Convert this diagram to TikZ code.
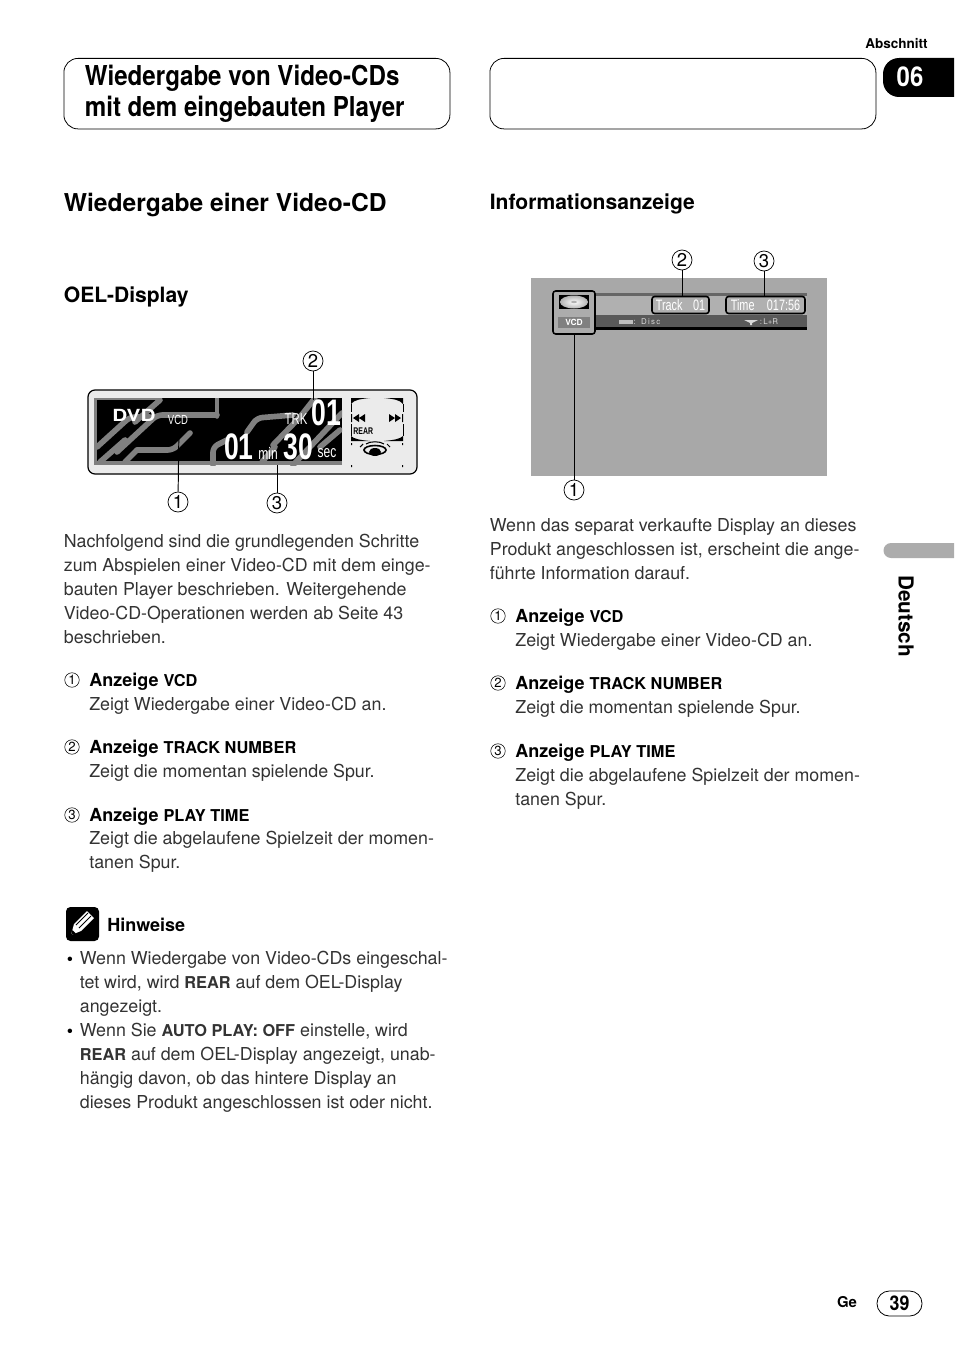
\documentclass[tikz,border=0pt]{standalone}
\usepackage{fontspec}
\usepackage{tikz}
\setmainfont{TeX Gyre Heros}
\newfontfamily\narrowfont[FakeStretch=0.72]{Liberation Sans}
\newfontfamily\titlefont[FakeStretch=0.88]{TeX Gyre Heros}
\usetikzlibrary{shapes.geometric, arrows, positioning}
\definecolor{bodyink}{gray}{0.2}
\definecolor{screengrey}{gray}{0.66}
\definecolor{roadgrey}{gray}{0.5}
\definecolor{oelface}{gray}{0.92}
\newcommand{\bodyfont}{\fontsize{10.15pt}{13.66pt}\selectfont}
\newcommand{\capword}[1]{{\fontsize{9.3pt}{13.66pt}\selectfont\bfseries #1}}
\tikzstyle{titlebox} = [rectangle, rounded corners=8pt, draw=black, line width=0.45pt, minimum width=386*0.02cm, minimum height=70.5*0.02cm, anchor=north west, inner sep=0]
\tikzstyle{titletext} = [anchor=west, inner sep=0, align=left, font=\titlefont\bfseries\fontsize{15.6pt}{17.9pt}\selectfont]
\tikzstyle{heading} = [anchor=west, inner sep=0, font=\bfseries\fontsize{14pt}{16pt}\selectfont]
\tikzstyle{subheading} = [anchor=west, inner sep=0, font=\bfseries\fontsize{12pt}{14pt}\selectfont]
\tikzstyle{paragraph} = [anchor=north west, inner sep=0, align=left, text=bodyink, font=\bodyfont]
\tikzstyle{itemhead} = [anchor=west, inner sep=0, font=\fontsize{10.25pt}{13.66pt}\selectfont\bfseries]
\tikzstyle{number} = [circle, draw=black, line width=0.4pt, inner sep=0, minimum size=20*0.02cm, font=\fontsize{10.5pt}{11pt}\selectfont]
\tikzstyle{smallnumber} = [circle, draw=black, line width=0.3pt, inner sep=0, minimum size=14.5*0.02cm, font=\fontsize{7.5pt}{8pt}\selectfont]
\tikzstyle{leader} = [line width=0.55pt, black]
\tikzstyle{road} = [roadgrey, line width=3.2pt, rounded corners=3pt, line cap=round]
\tikzstyle{oeltext} = [inner sep=0, text=white, font=\narrowfont]
\tikzstyle{bigdigits} = [inner sep=0, text=white, font=\narrowfont\bfseries\fontsize{21pt}{24pt}\selectfont]
\tikzstyle{framebox} = [rectangle, rounded corners=1.5pt, draw=black, line width=0.9pt, inner sep=0, minimum height=17*0.02cm]
\begin{document}
\begin{tikzpicture}[x=0.02cm, y=-0.02cm]
	\useasboundingbox (0,0) rectangle (954,1355);
	\fill [white] (0,0) rectangle (954,1355);

	% page furniture
	\node (section) [anchor=east, inner sep=0, font=\bfseries\fontsize{7.7pt}{9pt}\selectfont] at (928,43.5) {Abschnitt};
	\node (titleLeft) [titlebox] at (63.5,58) {};
	\node (titleRight) [titlebox] at (489.5,58) {};
	\node (titleText) [titletext] at (84.5,94) {Wiedergabe von Video-CDs\\mit dem eingebauten Player};
	\fill [black] (954,58) -- (899,58) arc (-90:-180:16 and 16) -- (883,81) arc (180:90:16 and 16) -- (954,97) -- cycle;
	\node (chapter) [inner sep=0, text=white, font=\titlefont\bfseries\fontsize{15.5pt}{17pt}\selectfont] at (910,77) {06};
	\fill [gray!65] (954,543) -- (891,543) arc (270:90:7.5) -- (954,558) -- cycle;
	\node (language) [rotate=-90, inner sep=0, font=\bfseries\fontsize{11.8pt}{13pt}\selectfont] at (906,616) {Deutsch};

	% headings
	\node (headMain) [heading] at (63.5,205) {Wiedergabe einer Video-CD};
	\node (headInfo) [subheading] at (489.5,204) {Informationsanzeige};
	\node (headOel) [subheading] at (63.5,297) {OEL-Display};

	% OEL display
	\draw [black, fill=oelface, line width=0.7pt, rounded corners=4pt] (88,390) rectangle (417,474);
	\begin{scope}
		\clip (94,398) rectangle (342,465);
		\fill [black] (94,398) rectangle (342,465);
		\fill [roadgrey] (94,398) rectangle (97,465);
		\fill [roadgrey] (94,398) rectangle (160,400);
		\fill [roadgrey] (94,461) rectangle (342,465);
		\draw [road] (97,447) -- (130,417) -- (150,417);
		\draw [road] (117,452) -- (157,415) -- (217,415);
		\draw [road] (160,400) -- (135,422);
		\draw [road] (100,462) -- (125,440);
		\draw [road] (190,433) -- (173,450) -- (137,450);
		\draw [road] (137,450) -- (125,462);
		\draw [road, line width=2pt] (217,398) -- (217,417);
		\draw [road] (213,465) -- (213,447) -- (227,440);
		\draw [road] (247,432) -- (257,418) -- (293,415);
		\draw [road] (273,445) -- (300,417) -- (315,398);
		\draw [road] (262,462) -- (275,447);
		\draw [road] (293,465) -- (342,413);
		\draw [road] (320,447) -- (340,430);
	\end{scope}
	\node (oelDvd) [inner sep=0, text=white, font=\bfseries\fontsize{9.5pt}{10pt}\selectfont, xscale=1.25, transform shape] at (134,415) {DVD};
	\node (oelVcd) [oeltext, font=\narrowfont\fontsize{7.5pt}{8pt}\selectfont] at (178,420) {VCD};
	\node (oelTrk) [oeltext, font=\narrowfont\fontsize{9pt}{9pt}\selectfont] at (296,419) {TRK};
	\node (oelTrack) [bigdigits] at (326.5,413) {01};
	\node (oelMin) [bigdigits] at (239,447) {01};
	\node (oelMinUnit) [oeltext, font=\narrowfont\fontsize{9.5pt}{10pt}\selectfont] at (268,453) {min};
	\node (oelSec) [bigdigits] at (298,447) {30};
	\node (oelSecUnit) [oeltext, font=\narrowfont\fontsize{9.5pt}{10pt}\selectfont] at (327,453) {sec};
	% mode icons
	\fill [black] (351,398) -- (370,398) .. controls (360,399) and (354,400) .. (351,404) -- cycle;
	\fill [black] (403,398) -- (384,398) .. controls (394,399) and (400,400) .. (403,404) -- cycle;
	\fill [black] (351,441) -- (370,441) .. controls (360,440) and (354,439) .. (351,436) -- cycle;
	\fill [black] (403,441) -- (384,441) .. controls (394,440) and (400,439) .. (403,436) -- cycle;
	\draw [black, line width=0.4pt] (351,404) -- (351,412) (403,404) -- (403,412) (351,424) -- (351,436) (403,424) -- (403,436);
	\fill [black] (351,414) rectangle (352,422) (353,418) -- (359,414) -- (359,422) -- cycle (359,418) -- (365,414) -- (365,422) -- cycle;
	\fill [black] (402,414) rectangle (403,422) (401,418) -- (395,414) -- (395,422) -- cycle (395,418) -- (389,414) -- (389,422) -- cycle;
	\node (oelRear) [inner sep=0, font=\narrowfont\bfseries\fontsize{5.5pt}{6pt}\selectfont, anchor=west] at (353,431) {REAR};
	\draw [black, line width=0.9pt] (375,450) ellipse (11 and 4.5);
	\fill [black] (375,452) ellipse (6 and 4);
	\draw [black, line width=0.6pt] (366,444) .. controls (370,441) and (380,441) .. (384,444);
	\draw [black, line width=0.6pt] (360,447) -- (363,444) (390,447) -- (387,444);
	\fill [black] (351,443) rectangle (352,445) (402,443) rectangle (403,445) (351,465) rectangle (352,467) (402,465) rectangle (403,467);

	\node (oelOne) [number] at (178,502) {1};
	\node (oelTwo) [number] at (313,361) {2};
	\node (oelThree) [number] at (277,503) {3};
	\coordinate (oelOneEnd) at (179,425);
	\coordinate (oelTwoEnd) at (313,400);
	\coordinate (oelThreeEnd) at (277,465);
	\draw [leader] (oelOne) -- (oelOneEnd);
	\draw [leader] (oelTwo) -- (oelTwoEnd);
	\draw [leader] (oelThree) -- (oelThreeEnd);

	% monitor screen
	\fill [screengrey] (531,278) rectangle (827,476);
	\fill [black!60] (553,293) rectangle (807,296);
	\fill [gray!62] (595,296) rectangle (807,315);
	\fill [black!65] (553,315) rectangle (807,327);
	\fill [black] (553,327) rectangle (807,330);
	\fill [gray!65] (553,293) rectangle (595,334);
	\fill [black] (559,295) rectangle (589,309);
	\shade [inner color=white, outer color=gray!60] (574,302) ellipse (14 and 6.5);
	\fill [gray!60] (574,302) ellipse (3 and 1.2);
	\node (screenVcd) [rectangle, fill=black!50, text=white, minimum width=32*0.02cm, minimum height=11*0.02cm, inner sep=0, font=\bfseries\fontsize{4.8pt}{5pt}\selectfont] at (574,322) {VCD};
	\node (screenDisc) [rectangle, draw=white, line width=0.5pt, rounded corners=1.5pt, minimum width=42*0.02cm, minimum height=43*0.02cm, inner sep=0] at (574,312.5) {};
	\draw [black, line width=0.9pt, rounded corners=1.5pt] (553,291) rectangle (595,334);
	\node (screenTrack) [framebox, minimum width=57*0.02cm, text=white, fill=gray!62, font=\narrowfont\fontsize{8.6pt}{9pt}\selectfont] at (680.5,305) {Track\hspace{6pt}01};
	\node (screenTime) [framebox, minimum width=79*0.02cm, text=white, fill=gray!62, font=\narrowfont\fontsize{8.6pt}{9pt}\selectfont] at (765.5,305) {Time\hspace{7pt}017:56};
	\fill [gray!50] (619,320) rectangle (633,324);
	\node (screenSource) [inner sep=0, text=gray!30, font=\fontsize{4.5pt}{5pt}\selectfont] at (647,322) {:\hspace{3pt}D\,i\,s\,c};
	\fill [gray!30] (744,320) -- (758,320) -- (752,323) -- (752,325) -- (750,325) -- (750,323) -- cycle;
	\node (screenAudio) [inner sep=0, text=gray!30, font=\fontsize{4.5pt}{5pt}\selectfont] at (769,322) {:\,L+R};

	\node (infoOne) [number] at (574,490) {1};
	\node (infoTwo) [number] at (682,260) {2};
	\node (infoThree) [number] at (764,261) {3};
	\draw [leader] (infoOne) -- (screenDisc.south -| infoOne);
	\draw [leader] (infoTwo) -- (screenTrack.north -| infoTwo);
	\draw [leader] (infoThree) -- (screenTime.north -| infoThree);

	% left column
	\node (oelIntro) [paragraph] at (63.5,534) {Nachfolgend sind die grundlegenden Schritte\\zum Abspielen einer Video-CD mit dem einge-\\bauten Player beschrieben. Weitergehende\\Video-CD-Operationen werden ab Seite 43\\beschrieben.};
	\node (oelMarkA) [smallnumber] at (72,680) {1};
	\node (oelHeadA) [itemhead] at (89,682) {Anzeige \capword{VCD}};
	\node (oelTextA) [paragraph] at (89,697) {Zeigt Wiedergabe einer Video-CD an.};
	\node (oelMarkB) [smallnumber] at (72,747) {2};
	\node (oelHeadB) [itemhead] at (89,749) {Anzeige \capword{TRACK NUMBER}};
	\node (oelTextB) [paragraph] at (89,764) {Zeigt die momentan spielende Spur.};
	\node (oelMarkC) [smallnumber] at (72,815) {3};
	\node (oelHeadC) [itemhead] at (89,817) {Anzeige \capword{PLAY TIME}};
	\node (oelTextC) [paragraph] at (89,831) {Zeigt die abgelaufene Spielzeit der momen-\\tanen Spur.};

	% note
	\fill [black, rounded corners=2.5pt] (66,907) rectangle (99,941);
	\fill [white] (71,935) -- (74,924) -- (87,911) -- (94,918) -- (81,931) -- cycle;
	\draw [black, line width=0.5pt] (76,925) -- (88,913) (79,928) -- (91,916);
	\fill [black] (71,935) -- (72.5,930) -- (76,933.5) -- cycle;
	\node (noteHead) [itemhead] at (107,924.5) {Hinweise};
	\node (bulletA) [inner sep=0, font=\bodyfont] at (70,961) {•};
	\node (noteA) [paragraph] at (79.5,951) {Wenn Wiedergabe von Video-CDs eingeschal-\\tet wird, wird \capword{REAR} auf dem OEL-Display\\angezeigt.};
	\node (bulletB) [inner sep=0, font=\bodyfont] at (70,1033) {•};
	\node (noteB) [paragraph] at (79.5,1023) {Wenn Sie \capword{AUTO PLAY: OFF} einstelle, wird\\\capword{REAR} auf dem OEL-Display angezeigt, unab-\\hängig davon, ob das hintere Display an\\dieses Produkt angeschlossen ist oder nicht.};

	% right column
	\node (infoIntro) [paragraph] at (489.5,518) {Wenn das separat verkaufte Display an dieses\\Produkt angeschlossen ist, erscheint die ange-\\führte Information darauf.};
	\node (infoMarkA) [smallnumber] at (498,616) {1};
	\node (infoHeadA) [itemhead] at (515,618) {Anzeige \capword{VCD}};
	\node (infoTextA) [paragraph] at (515,633) {Zeigt Wiedergabe einer Video-CD an.};
	\node (infoMarkB) [smallnumber] at (498,683) {2};
	\node (infoHeadB) [itemhead] at (515,685) {Anzeige \capword{TRACK NUMBER}};
	\node (infoTextB) [paragraph] at (515,700) {Zeigt die momentan spielende Spur.};
	\node (infoMarkC) [smallnumber] at (498,751) {3};
	\node (infoHeadC) [itemhead] at (515,753) {Anzeige \capword{PLAY TIME}};
	\node (infoTextC) [paragraph] at (515,767.5) {Zeigt die abgelaufene Spielzeit der momen-\\tanen Spur.};

	% folio
	\node (folioLang) [inner sep=0, font=\bfseries\fontsize{8.5pt}{10pt}\selectfont] at (847,1302.5) {Ge};
	\node (folioPage) [rectangle, rounded corners=7pt, draw=black, line width=0.45pt, minimum width=45*0.02cm, minimum height=25*0.02cm, inner sep=0, font=\titlefont\bfseries\fontsize{11.5pt}{13pt}\selectfont] at (899.5,1303.5) {39};
\end{tikzpicture}
\end{document}
